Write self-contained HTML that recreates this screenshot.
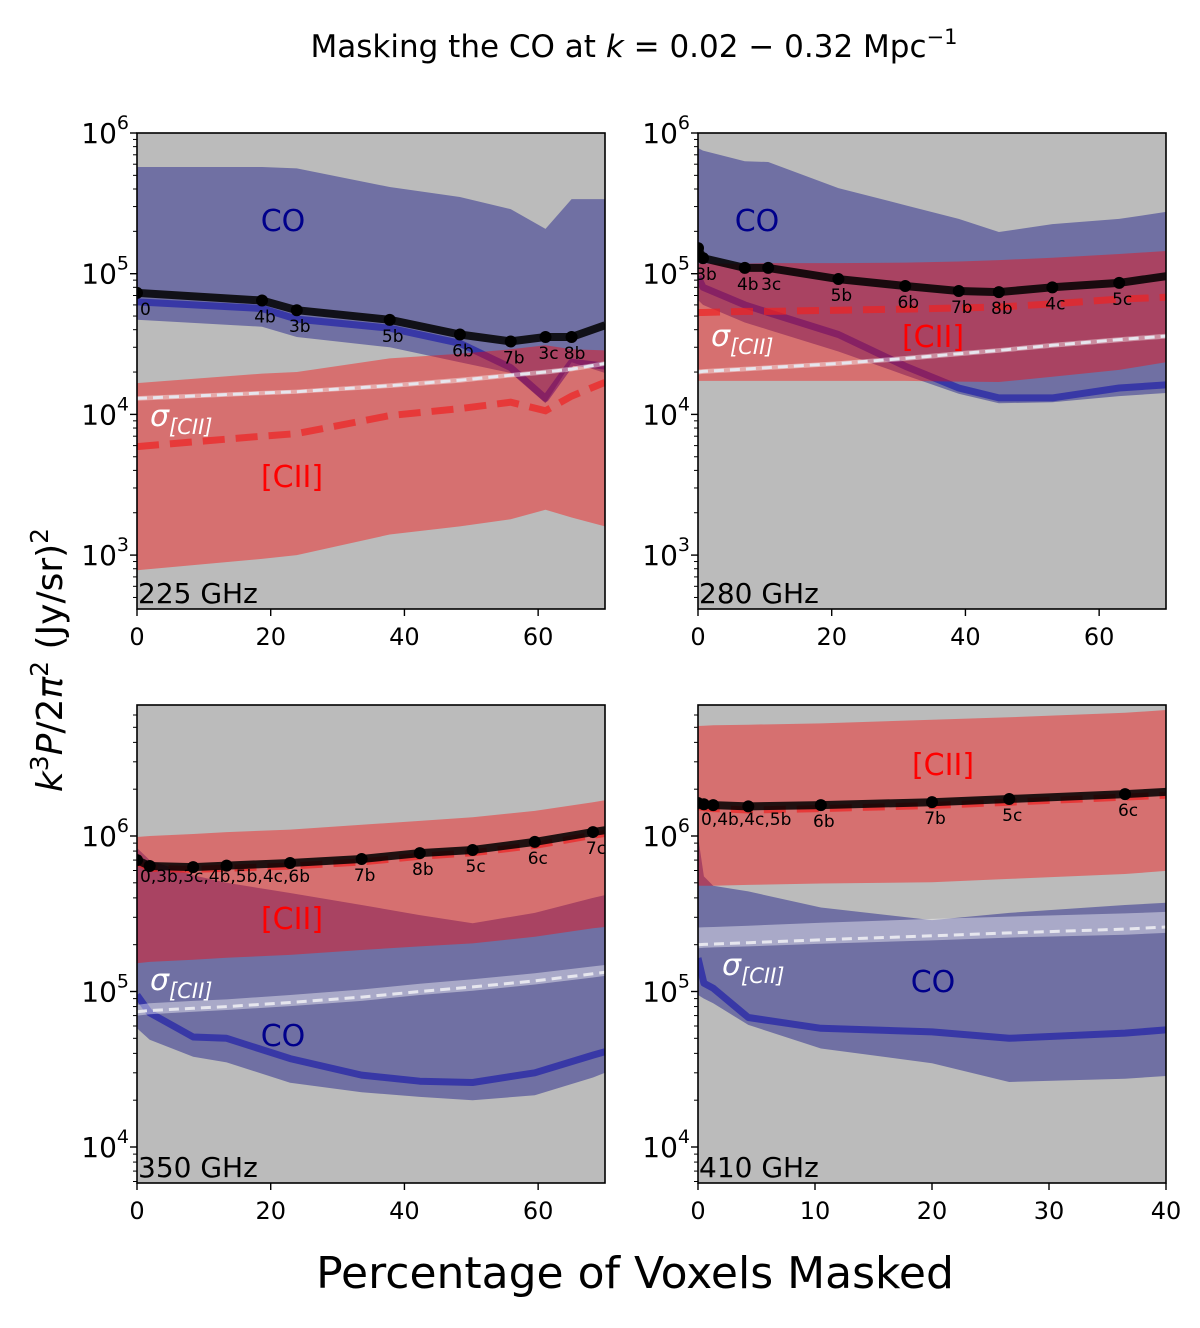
<!DOCTYPE html>
<html><head><meta charset="utf-8">
<style>
html,body{margin:0;padding:0;background:#fff;}
svg{display:block;font-family:"DejaVu Sans","Liberation Sans",sans-serif;}
</style></head>
<body>
<svg id="fig" width="1200" height="1328" viewBox="0 0 1200 1328" xmlns="http://www.w3.org/2000/svg">
<text x="634" y="57" font-size="31" text-anchor="middle">Masking the CO at <tspan font-style="italic">k</tspan> = 0.02 − 0.32 Mpc<tspan font-size="21" dy="-13">−1</tspan></text>
<text transform="translate(62,660) rotate(-90)" font-size="36" text-anchor="middle"><tspan font-style="italic">k</tspan><tspan font-size="25" dy="-14">3</tspan><tspan dy="14" font-style="italic">P</tspan>/2<tspan font-style="italic">π</tspan><tspan font-size="25" dy="-14">2</tspan><tspan dy="14"> (Jy/sr)</tspan><tspan font-size="25" dy="-14">2</tspan></text>
<text x="635" y="1288" font-size="44" text-anchor="middle">Percentage of Voxels Masked</text>
<g id="panels"></g>
</svg>
<script>
// ---- Panel 1: 225 GHz ----
const p1_x = [0,18.7,23.9,37.8,48.3,55.9,61.1,65,70];
const p1_total = [73000,64500,55000,47000,37000,33000,35500,35500,43000];
const p1_labels = ["0","4b","3b","5b","6b","7b","3c","8b",null];
const p1_coHi = [573000,573000,560000,413000,351000,288000,208000,339000,339000];
const p1_coLo = [47000,42000,35500,30000,23500,19700,12000,23500,19700];
const p1_coMed = [63000,56600,47600,41000,32000,21500,13000,23500,22000];
const p1_ciiHi = [16700,19500,20000,25000,27000,29000,31000,29000,28500];
const p1_ciiLo = [780,940,1000,1400,1600,1800,2100,1850,1600];
const p1_ciiMed = [5900,7000,7300,9800,11000,12200,10600,13500,16900];
const p1_sigma = [13000,14200,14500,16000,17500,19000,20000,21000,23000];
const p1_sigHi = [13500,14700,15000,16600,18200,19700,20800,21800,23900];
const p1_sigLo = [12500,13700,14000,15400,16800,18300,19200,20200,22100];
const p1_xticks = [0,20,40,60];
// ---- Panel 2: 280 GHz ----
const p2_x = [0,0.75,7,10.5,21,31,39,45,53,63,70];
const p2_total = [152000,129000,110000,110000,91600,81800,75400,74000,80000,86000,96000];
const p2_labels = ["","3b","4b","3c","5b","6b","7b","8b","4c","5c",null];
const p2_coHi = [782000,750000,630000,622000,406000,307000,245000,198000,225000,245000,275000];
const p2_coLo = [65000,60000,45000,40000,28000,19000,14000,12000,12200,13500,14200];
const p2_coMed = [95000,80000,60000,53000,37000,22000,15400,13100,13100,15400,16200];
const p2_ciiHi = [118000,118000,118000,119000,119000,120000,122000,125000,130000,138000,145000];
const p2_ciiLo = [17300,17300,17300,17300,17300,17300,17100,17000,18500,20700,23500];
const p2_ciiMed = [53000,53000,54000,54000,55000,56000,57000,58000,61000,66000,68000];
const p2_sigma = [20000,20200,21000,21500,23000,25000,27000,28500,31000,34000,36000];
const p2_sigHi = [20800,21000,21800,22300,23900,26000,28100,29600,32200,35400,37400];
const p2_sigLo = [19200,19400,20200,20700,22100,24000,25900,27400,29800,32600,34600];
const p2_xticks = [0,20,40,60];
// ---- Panel 3: 350 GHz ----
const p3_x = [0,1.9,8.4,13.4,22.9,33.6,42.3,50.2,59.5,68.2,70];
const p3_total = [700000,641000,631000,645000,670000,711000,776000,813000,916000,1060000,1090000];
const p3_labels = ["0,3b,3c,4b,5b,4c,6b","","","","","7b","8b","5c","6c","7c",null];
const p3_coHi = [837000,700000,560000,500000,430000,360000,310000,275000,320000,400000,417000];
const p3_coLo = [58000,49000,38000,35000,25900,22500,21000,20000,21500,28000,30000];
const p3_coMed = [95000,73000,51000,50000,37000,29000,26500,26000,30000,39000,41000];
const p3_ciiHi = [986000,1000000,1030000,1060000,1100000,1180000,1250000,1320000,1450000,1650000,1700000];
const p3_ciiLo = [152000,155000,160000,165000,172000,185000,195000,204000,225000,255000,260000];
const p3_ciiMed = [680000,620000,610000,620000,640000,680000,740000,780000,870000,1010000,1040000];
const p3_sigma = [74000,75500,78000,80000,85000,92000,100000,107000,117000,130000,133000];
const p3_sigHi = [82000,84000,87000,89000,95000,103000,112000,120000,131000,145000,148000];
const p3_sigLo = [70000,71500,74000,76000,80500,87000,95000,101000,111000,123000,126000];
const p3_xticks = [0,20,40,60];
// ---- Panel 4: 410 GHz ----
const p4_x = [0,0.5,1.3,4.3,10.5,20,26.6,36.5,40];
const p4_total = [1630000,1600000,1580000,1550000,1580000,1650000,1730000,1860000,1920000];
const p4_labels = ["0,4b,4c,5b","","","","6b","7b","5c","6c",null];
const p4_coHi = [1000000,550000,478000,440000,347000,288000,320000,360000,372000];
const p4_coLo = [95000,90000,84000,61000,43000,34600,26200,27500,28600];
const p4_coMed = [164000,113000,105000,68000,58000,55000,50000,54000,56600];
const p4_ciiHi = [5100000,5120000,5150000,5200000,5300000,5600000,5800000,6200000,6460000];
const p4_ciiLo = [478000,478000,478000,485000,495000,504000,530000,570000,596000];
const p4_ciiMed = [1550000,1520000,1500000,1470000,1500000,1570000,1650000,1780000,1830000];
const p4_sigma = [200000,201000,202000,206000,215000,228000,238000,252000,260000];
const p4_sigHi = [258000,259000,260000,265000,277000,293000,303000,318000,325000];
const p4_sigLo = [190000,191000,192000,195000,203000,213000,222000,232000,238000];
const p4_xticks = [0,10,20,30,40];

const NS = "http://www.w3.org/2000/svg";
const root = document.getElementById('panels');
function el(tag, attrs, parent){
  const e = document.createElementNS(NS, tag);
  for (const k in attrs) e.setAttribute(k, attrs[k]);
  (parent||root).appendChild(e);
  return e;
}

function drawPanel(cfg){
  const {left,top,right,bottom,xmax,logTop,logBot,id} = cfg;
  const sx = v => left + (v/xmax)*(right-left);
  const sy = v => top + (logTop - Math.log10(v))/(logTop-logBot)*(bottom-top);
  const g = el('g', {});
  
  
  const cp = el('clipPath', {id:'clip'+id}, g);
  el('rect', {x:left,y:top,width:right-left,height:bottom-top}, cp);
  const bg = el('rect', {x:left,y:top,width:right-left,height:bottom-top,fill:'#bbbbbb'}, g);
  
  
  const pg = el('g', {'clip-path':'url(#clip'+id+')'}, g);
  const X = cfg.x;
  const band = (hi, lo) => {
    let d = '';
    X.forEach((v,i)=>{ d += (i?'L':'M') + sx(v).toFixed(1)+','+sy(hi[i]).toFixed(1); });
    for (let i=X.length-1;i>=0;i--) d += 'L'+sx(X[i]).toFixed(1)+','+sy(lo[i]).toFixed(1);
    return d+'Z';
  };
  const line = arr => X.map((v,i)=>(i?'L':'M')+sx(v).toFixed(1)+','+sy(arr[i]).toFixed(1)).join('');
  const coB = el('path', {d:band(cfg.coHi,cfg.coLo), fill:'#000080', 'fill-opacity':0.4}, pg);
  
  
  const coL = el('path', {d:line(cfg.coMed), fill:'none', stroke:'#0000aa', 'stroke-opacity':0.5, 'stroke-width':7, 'stroke-linejoin':'round'}, pg);
  
  
  const ciiB = el('path', {d:band(cfg.ciiHi,cfg.ciiLo), fill:'#ff0000', 'fill-opacity':0.4}, pg);
  
  
  const ciiL = el('path', {d:line(cfg.ciiMed), fill:'none', stroke:'#ee2222', 'stroke-opacity':0.7, 'stroke-width':7, 'stroke-dasharray':'22,11'}, pg);
  
  
  const sB = el('path', {d:band(cfg.sigHi,cfg.sigLo), fill:'#ffffff', 'fill-opacity':0.4}, pg);
  
  
  const sL = el('path', {d:line(cfg.sigma), fill:'none', stroke:'#e6e6ee', 'stroke-width':3, 'stroke-dasharray':'10,6'}, pg);
  
  
  const tL = el('path', {d:line(cfg.total), fill:'none', stroke:'#000', 'stroke-opacity':0.85, 'stroke-width':8, 'stroke-linejoin':'round'}, pg);
  
  
  X.forEach((v,i)=>{
    if (cfg.labels[i]===null) return;
    const c = el('circle', {cx:sx(v), cy:sy(cfg.total[i]), r:6, fill:'#000'}, pg);
    
    
    if (cfg.labels[i]) {
      const first = i===0;
      const t = el('text', {x:sx(v)+3, y:sy(cfg.total[i])+22, 'font-size':17, 'text-anchor':first?'start':'middle', fill:'#000'}, pg);
      t.textContent = cfg.labels[i];
      
      
    }
  });
  cfg.notes.forEach(n=>{
    const t = el('text', {x:n.x, y:n.y, 'font-size':n.fs||30, fill:n.c, 'text-anchor':n.a||'middle'}, g);
    if (n.sig) {
      t.innerHTML = '<tspan font-style="italic" font-size="30">σ</tspan><tspan font-style="italic" font-size="21" dy="8">[CII]</tspan>';
    } else t.textContent = n.t;
    
    
  });
  el('rect', {x:left,y:top,width:right-left,height:bottom-top,fill:'none',stroke:'#000','stroke-width':1.6}, g);
  cfg.xticks.forEach(v=>{
    el('line', {x1:sx(v),x2:sx(v),y1:bottom,y2:bottom+7,stroke:'#000','stroke-width':1.4}, g);
    const t = el('text', {x:sx(v), y:bottom+36, 'font-size':24, 'text-anchor':'middle'}, g);
    t.textContent = v;
    
    
  });
  for (let d=Math.floor(logBot); d<=Math.ceil(logTop); d++){
    for (let m=1;m<10;m++){
      const lv = d+Math.log10(m);
      if (lv < logBot-1e-6 || lv > logTop+1e-6) continue;
      const y = sy(Math.pow(10,lv));
      el('line', {x1:left-(m===1?7:4),x2:left,y1:y,y2:y,stroke:'#000','stroke-width':m===1?1.4:1}, g);
      if (m===1){
        const t = el('text', {x:left-8, y:y+10, 'font-size':28, 'text-anchor':'end'}, g);
        t.innerHTML = '10<tspan font-size="19" dy="-14">'+d+'</tspan>';
        
        
      }
    }
  }
  const fl = el('text', {x:left+1, y:bottom-6, 'font-size':28, fill:'#000'}, g);
  fl.textContent = cfg.freq;
  
  
}

const topLT = 6, topLB = 6 - (609-133)/140.7;
const botLT = 6 + (836-705)/155.5, botLB = 6 - (1183-836)/155.5;

drawPanel({id:'225ghz', freq:'225 GHz', left:137, right:605, top:133, bottom:609, xmax:70, logTop:topLT, logBot:topLB,
  x:p1_x,total:p1_total,labels:p1_labels,coHi:p1_coHi,coLo:p1_coLo,coMed:p1_coMed,ciiHi:p1_ciiHi,ciiLo:p1_ciiLo,ciiMed:p1_ciiMed,sigma:p1_sigma,sigHi:p1_sigHi,sigLo:p1_sigLo,xticks:p1_xticks,
  notes:[{x:283,y:231,t:'CO',c:'#00008b',name:'co-label'},{x:292,y:487,t:'[CII]',c:'#ff0000',name:'cii-label'},{x:150,y:426,sig:1,c:'#fff',a:'start',name:'sigma-label'}]});
drawPanel({id:'280ghz', freq:'280 GHz', left:698, right:1166, top:133, bottom:609, xmax:70, logTop:topLT, logBot:topLB,
  x:p2_x,total:p2_total,labels:p2_labels,coHi:p2_coHi,coLo:p2_coLo,coMed:p2_coMed,ciiHi:p2_ciiHi,ciiLo:p2_ciiLo,ciiMed:p2_ciiMed,sigma:p2_sigma,sigHi:p2_sigHi,sigLo:p2_sigLo,xticks:p2_xticks,
  notes:[{x:757,y:231,t:'CO',c:'#00008b',name:'co-label'},{x:933,y:347,t:'[CII]',c:'#ff0000',name:'cii-label'},{x:711,y:346,sig:1,c:'#fff',a:'start',name:'sigma-label'}]});
drawPanel({id:'350ghz', freq:'350 GHz', left:137, right:605, top:705, bottom:1183, xmax:70, logTop:botLT, logBot:botLB,
  x:p3_x,total:p3_total,labels:p3_labels,coHi:p3_coHi,coLo:p3_coLo,coMed:p3_coMed,ciiHi:p3_ciiHi,ciiLo:p3_ciiLo,ciiMed:p3_ciiMed,sigma:p3_sigma,sigHi:p3_sigHi,sigLo:p3_sigLo,xticks:p3_xticks,
  notes:[{x:292,y:929,t:'[CII]',c:'#ff0000',name:'cii-label'},{x:150,y:990,sig:1,c:'#fff',a:'start',name:'sigma-label'},{x:283,y:1046,t:'CO',c:'#00008b',name:'co-label'}]});
drawPanel({id:'410ghz', freq:'410 GHz', left:698, right:1166, top:705, bottom:1183, xmax:40, logTop:botLT, logBot:botLB,
  x:p4_x,total:p4_total,labels:p4_labels,coHi:p4_coHi,coLo:p4_coLo,coMed:p4_coMed,ciiHi:p4_ciiHi,ciiLo:p4_ciiLo,ciiMed:p4_ciiMed,sigma:p4_sigma,sigHi:p4_sigHi,sigLo:p4_sigLo,xticks:p4_xticks,
  notes:[{x:943,y:775,t:'[CII]',c:'#ff0000',name:'cii-label'},{x:722,y:975,sig:1,c:'#fff',a:'start',name:'sigma-label'},{x:933,y:992,t:'CO',c:'#00008b',name:'co-label'}]});
</script>
</body></html>
